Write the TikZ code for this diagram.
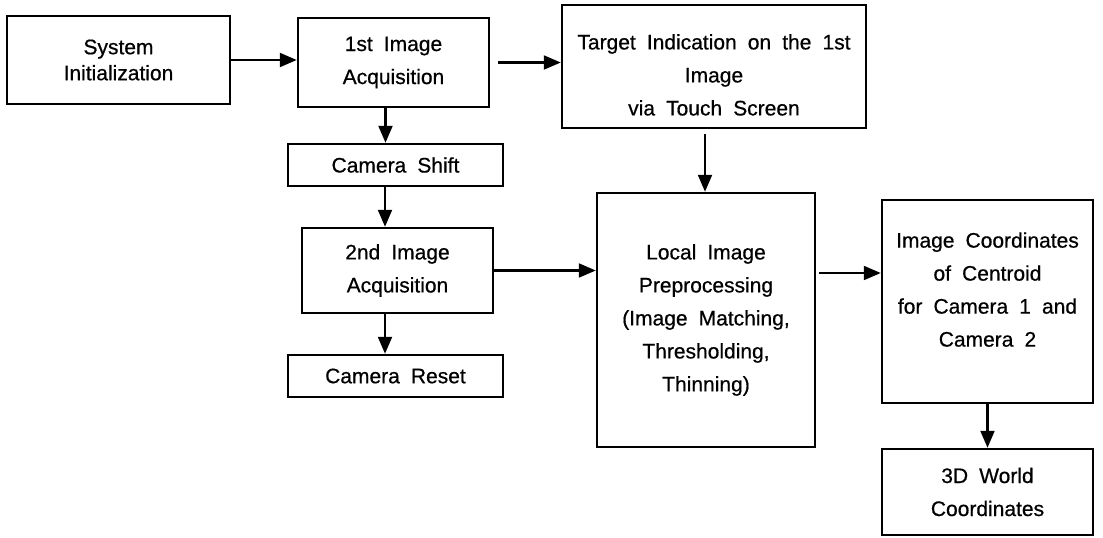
\documentclass[tikz,border=0pt]{standalone}
\usepackage{fontspec}
\setmainfont{Liberation Sans}[WordSpace=1.9, FakeBold=0.6]
\usetikzlibrary{arrows.meta}

\tikzset{
  box/.style={draw, line width=2.5pt, align=center, inner sep=0pt,
              font=\fontsize{21}{33}\selectfont},
  arr/.style={line width=2.2pt, -{Triangle[length=17pt,width=14pt]}}
}

\begin{document}
\begin{tikzpicture}[x=1pt, y=-1pt]
\useasboundingbox (0,0) rectangle (1103,538);

% left column
\node[box, minimum width=223pt, minimum height=88pt,
      font=\fontsize{21}{26}\selectfont] (sys) at (118.5,60)
  {System\\Initialization};
\node[box, minimum width=191pt, minimum height=89pt] (acq1) at (393.5,62.5)
  {1st Image\\Acquisition};
\node[box, minimum width=215pt, minimum height=42pt] (shift) at (395.5,165)
  {Camera Shift};
\node[box, minimum width=191pt, minimum height=85pt] (acq2) at (397.5,270.5)
  {2nd Image\\Acquisition};
\node[box, minimum width=215pt, minimum height=42pt] (reset) at (395.5,376)
  {Camera Reset};

% middle column
\node[box, minimum width=304pt, minimum height=123pt] (target) at (714,66.5)
  {\rule{0pt}{32pt}Target Indication on the 1st\\Image\\via Touch Screen};
\node[box, minimum width=218pt, minimum height=254pt] (local) at (706,320)
  {Local Image\\Preprocessing\\(Image Matching,\\Thresholding,\\Thinning)};

% right column
\node[box, minimum width=211pt, minimum height=203pt] (coords) at (987.5,301.5)
  {Image Coordinates\\of Centroid\\for Camera 1 and\\Camera 2\rule[-24pt]{0pt}{0pt}};
\node[box, minimum width=211pt, minimum height=86pt] (world) at (987.5,492)
  {3D World\\Coordinates};

% connectors
\draw[arr] (sys.east) -- (sys.east -| acq1.west);
\draw[arr] ([xshift=8pt]acq1.east) -- (acq1.east -| target.west);
\draw[arr] ([xshift=-8pt]acq1.south) coordinate (a1) -- (a1 |- shift.north);
\draw[arr] ([xshift=-10.5pt]shift.south) coordinate (s1) -- (s1 |- acq2.north);
\draw[arr] ([xshift=-12.5pt]acq2.south) coordinate (a2) -- (a2 |- reset.north);
\draw[arr] ([xshift=-9pt,yshift=-5pt]target.south) coordinate (t1) -- (t1 |- local.north);
\draw[arr] (acq2.east) -- (acq2.east -| local.west);
\draw[arr] ([xshift=3pt,yshift=47pt]local.east) coordinate (l1) -- (l1 -| coords.west);
\draw[arr] (coords.south) -- (world.north);
\end{tikzpicture}
\end{document}
